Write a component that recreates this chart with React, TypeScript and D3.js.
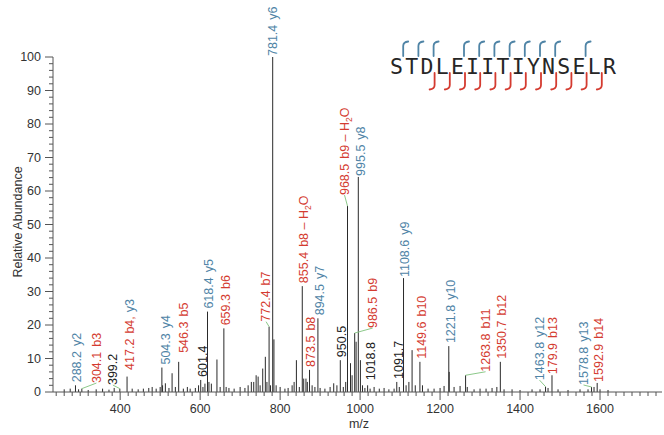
import * as d3 from 'd3';

const W = 664;
const H = 435;

// peptide and the fragment ions that were matched
const peptide = 'STDLEIITIYNSELR'.split('');
const bIons = [3, 4, 5, 6, 7, 8, 9, 10, 11, 12, 13, 14];
const yIons = [2, 4, 5, 6, 7, 8, 9, 10, 12, 13, 14];

// annotated peaks
const annotMz = [
  288.2, 304.1, 399.2, 417.2, 504.3, 546.3, 601.4, 618.4, 659.3, 772.4, 781.4, 855.4, 873.5, 894.5, 950.5,
  968.5, 986.5, 995.5, 1018.8, 1091.7, 1108.6, 1149.6, 1221.8, 1263.8, 1350.7, 1463.8, 1479.9, 1578.8, 1592.9,
];
const annotIntensity = [
  2, 1, 1, 4.6, 7.3, 9, 3.6, 24, 19, 19.5, 100, 31.6, 6.6, 22, 9.5,
  55.5, 17.6, 64.2, 2, 3, 34, 9, 13.7, 5, 9, 1.6, 5, 1.5, 2.7,
];
const annotText = [
  '288.2', '304.1', '399.2', '417.2', '504.3', '546.3', '601.4', '618.4', '659.3', '772.4', '781.4', '855.4', '873.5', '894.5', '950.5',
  '968.5', '986.5', '995.5', '1018.8', '1091.7', '1108.6', '1149.6', '1221.8', '1263.8', '1350.7', '1463.8', '179.9', '1578.8', '1592.9',
];
const annotIon = [
  'y2', 'b3', '', 'b4, y3', 'y4', 'b5', '', 'y5', 'b6', 'b7', 'y6', 'b8 – H2O', 'b8', 'y7', '',
  'b9 – H2O', 'b9', 'y8', '', '', 'y9', 'b10', 'y10', 'b11', 'b12', 'y12', 'b13', 'y13', 'b14',
];

// unannotated peaks
const otherMz = [
  260, 275, 296, 320, 340, 356, 372, 385, 430, 445, 458, 471.5, 480, 490, 500, 506, 513, 522, 529.8, 538,
  558, 568, 575, 588, 596, 607, 612, 622, 628, 642, 650, 665, 672, 685, 700, 712, 720, 728, 734, 740,
  745, 750, 756.5, 763, 767, 776, 784.5, 790, 800, 812, 820, 830, 835, 840.7, 848, 859, 864.6, 868, 880, 887,
  900, 912, 925, 934, 942, 958, 964, 976, 980, 990, 1000.8, 1006, 1012, 1025, 1035, 1048, 1060, 1072, 1085, 1098,
  1115, 1122, 1130, 1138, 1156, 1170, 1185, 1200, 1210, 1222.8, 1235, 1250, 1268, 1285, 1300, 1315, 1330, 1342, 1360, 1380,
  1400, 1430, 1450, 1470, 1495, 1520, 1550, 1570, 1585, 1600, 1620,
];
const otherIntensity = [
  0.8, 1, 0.8, 0.6, 0.8, 1, 0.7, 1.2, 1, 0.8, 1, 1.2, 1.5, 1, 1.5, 2, 2.6, 1.2, 5.6, 1.5,
  1, 1.5, 1, 1.2, 2, 1.5, 2.5, 3, 2.5, 9.7, 1.5, 1.5, 1.2, 1, 1.5, 1.2, 2, 3, 3, 5,
  4.6, 2, 7, 10.5, 3, 2, 15.7, 2, 1.5, 1, 1.2, 2, 3, 9.5, 1.5, 4, 4, 3, 2, 1.5,
  1.2, 1, 1.5, 2.6, 2, 1.5, 3, 8.6, 5, 15, 9.5, 2, 1.2, 1, 1.5, 1, 1.2, 0.8, 1, 1.5,
  2, 3, 12.5, 2, 2, 1, 1, 1.2, 1.8, 6, 1.5, 1.8, 1.5, 0.8, 1, 1, 1.2, 1.5, 0.8, 0.8,
  0.6, 0.8, 0.8, 1.2, 0.8, 0.6, 0.8, 0.8, 1.5, 0.8, 0.6,
];

const xTicks = [400, 600, 800, 1000, 1200, 1400, 1600];
const yTicks = [0, 10, 20, 30, 40, 50, 60, 70, 80, 90, 100];

// label placement tweaks: [dx from peak, dy from peak top, leader line]
const nudges: Record<string, [number, number, boolean]> = {
  '304.1': [14.6, -5.6, true],
  '399.2': [-7, -3.6, true],
  '417.2': [2.6, -6.7, false],
  '504.3': [4, -3, false],
  '546.3': [5, -9, false],
  '772.4': [-3, -5, true],
  '781.4': [0, -1, false],
  '968.5': [-3, -11, true],
  '986.5': [18, -5, true],
  '995.5': [2, -1, false],
  '1018.8': [3, -5, false],
  '1108.6': [1, -1, false],
  '1263.8': [20, -3.5, true],
  '1463.8': [-6, -6.5, true],
  '179.9': [0.5, -1, false],
  '1578.8': [-8, -2, true],
  '1592.9': [1, -1, false],
};

const RED = '#d43b30';
const BLUE = '#4f84a6';
const GREEN = '#8cc98a';
const AXIS = '#555';
const FONT = '"Liberation Sans", Arial, sans-serif';

function ionColour(ion: string) {
  if (ion.startsWith('b')) return RED;
  if (ion.startsWith('y')) return BLUE;
  return '#222';
}

function IonText({ ion }: { ion: string }) {
  if (ion.startsWith('b4')) {
    return (
      <>
        <tspan dx={5} fill={RED}>b4,</tspan>
        <tspan dx={4} fill={BLUE}>y3</tspan>
      </>
    );
  }
  if (ion.includes('H2O')) {
    const head = ion.replace('H2O', 'H');
    return (
      <>
        <tspan dx={5}>{head}</tspan>
        <tspan dy={3} fontSize={8.5}>2</tspan>
        <tspan dy={-3}>O</tspan>
      </>
    );
  }
  return <tspan dx={5}>{ion}</tspan>;
}

export default function App() {
  const x = d3.scaleLinear([232, 1755], [53, 662]);
  const y = d3.scaleLinear([0, 100], [392, 57]);
  const seqX = d3.scaleBand(d3.range(peptide.length), [389, 617]);

  const minorX = d3.range(240, 1755, 20);
  const minorY = d3.range(0, 101, 2);

  const labelFor = (i: number) => {
    const px = x(annotMz[i]);
    const py = y(annotIntensity[i]);
    const [dx, dy, leader] = nudges[annotText[i]] ?? [1.5, -3, false];
    return { px, py, lx: px + dx, ly: py + dy, leader };
  };

  return (
    <svg width={W} height={H} style={{ position: 'absolute', left: 0, top: 0, background: '#fff' }} fontFamily={FONT}>
      {/* peaks */}
      <g stroke="#2a2a2a" strokeWidth={1}>
        {otherMz.map((mz, i) => (
          <line key={'o' + i} x1={x(mz)} x2={x(mz)} y1={y(0)} y2={y(otherIntensity[i])} />
        ))}
        {annotMz.map((mz, i) => (
          <line key={'a' + i} x1={x(mz)} x2={x(mz)} y1={y(0)} y2={y(annotIntensity[i])} />
        ))}
      </g>

      {/* leaders and labels */}
      {annotMz.map((_, i) => {
        const { px, py, lx, ly, leader } = labelFor(i);
        const ion = annotIon[i];
        return (
          <g key={'l' + i}>
            {leader && <line x1={px} y1={py} x2={lx} y2={ly} stroke={GREEN} strokeWidth={1} />}
            <text
              transform={`translate(${lx},${ly}) rotate(-90)`}
              dy="0.35em"
              fontSize={12.5}
              fill={ionColour(ion)}
            >
              {annotText[i]}
              {ion && <IonText ion={ion} />}
            </text>
          </g>
        );
      })}

      {/* x axis */}
      <g stroke={AXIS} strokeWidth={1}>
        <line x1={53} x2={662} y1={392} y2={392} />
        {minorX.map((t) => (
          <line key={t} x1={x(t)} x2={x(t)} y1={392} y2={t % 200 === 0 ? 400 : 396} />
        ))}
      </g>
      {xTicks.map((t) => (
        <text key={t} x={x(t)} y={413} textAnchor="middle" fontSize={12.5} fill="#333">
          {t}
        </text>
      ))}
      <text x={359} y={428} textAnchor="middle" fontSize={12.5} fill="#333">
        m/z
      </text>

      {/* y axis */}
      <g stroke={AXIS} strokeWidth={1}>
        <line x1={53} x2={53} y1={57} y2={392} />
        {minorY.map((t) => (
          <line key={t} x1={t % 10 === 0 ? 45 : 49} x2={53} y1={y(t)} y2={y(t)} />
        ))}
      </g>
      {yTicks.map((t) => (
        <text key={t} x={41} y={y(t)} dy="0.35em" textAnchor="end" fontSize={12.5} fill="#333">
          {t}
        </text>
      ))}
      <text transform="translate(18,222) rotate(-90)" dy="0.35em" textAnchor="middle" fontSize={12.5} fill="#333">
        Relative Abundance
      </text>

      {/* peptide sequence with fragment coverage */}
      {peptide.map((aa, i) => (
        <text
          key={'aa' + i}
          x={(seqX(i) ?? 0) + seqX.bandwidth() / 2}
          y={74}
          textAnchor="middle"
          fontSize={21.5}
          fontFamily='"DejaVu Sans Mono", monospace'
          fill="#262626"
        >
          {aa}
        </text>
      ))}
      <g fill="none" strokeWidth={1.8} strokeLinecap="round">
        {yIons.map((n) => {
          const bx = seqX(peptide.length - n) ?? 0;
          return <path key={'y' + n} d={`M${bx - 1},56 V46 Q${bx - 1},42 ${bx + 4},41.5`} stroke={BLUE} />;
        })}
        {bIons.map((n) => {
          const bx = seqX(n) ?? 0;
          return <path key={'b' + n} d={`M${bx},73 V85 Q${bx},89 ${bx - 5},89.5`} stroke={RED} />;
        })}
      </g>
    </svg>
  );
}
